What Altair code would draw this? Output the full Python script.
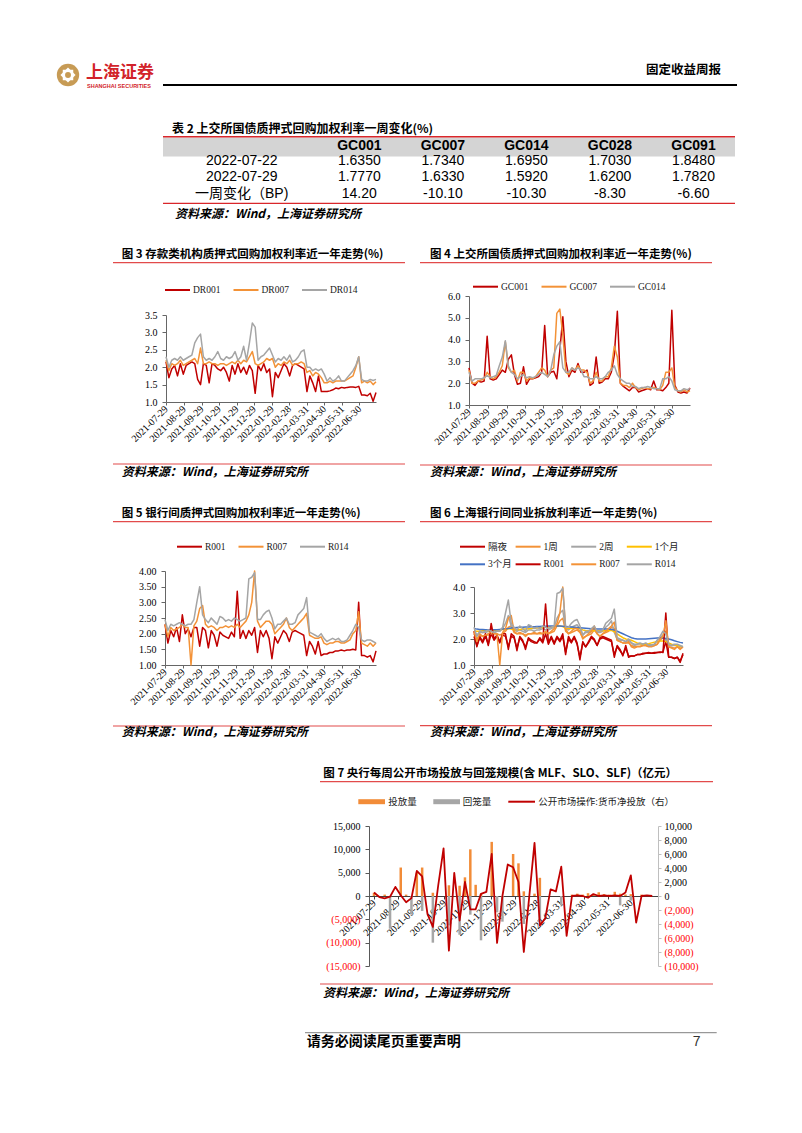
import altair as alt
import pandas as pd

# ===================== DATA =====================
table_cols = ["GC001", "GC007", "GC014", "GC028", "GC091"]
table_rows = ["2022-07-22", "2022-07-29", "一周变化（BP)"]
rate_0722 = [1.6350, 1.7340, 1.6950, 1.7030, 1.8480]
rate_0729 = [1.7770, 1.6330, 1.5920, 1.6200, 1.7820]
change_bp = [14.20, -10.10, -10.30, -8.30, -6.60]

month_ticks = ["2021-07-29", "2021-08-29", "2021-09-29", "2021-10-29", "2021-11-29",
               "2021-12-29", "2022-01-29", "2022-02-28", "2022-03-31", "2022-04-30",
               "2022-05-31", "2022-06-30"]

daily_dates = pd.date_range("2021-07-29", periods=74, freq="5D").strftime("%Y-%m-%dT00:00:00").tolist()
weekly_dates = pd.date_range("2021-07-29", periods=53, freq="7D").strftime("%Y-%m-%dT00:00:00").tolist()

# Fig 3: deposit-institution repo (DR)
dr_names = ["DR001", "DR007", "DR014"]
DR001 = [2.15, 1.7, 1.95, 2.05, 1.75, 2.1, 1.8, 2.05, 2.1, 2.15,
         2.1, 1.65, 1.5, 2.1, 2.05, 1.55, 2.1, 2.05, 1.95, 1.9,
         2.0, 1.85, 1.6, 2.05, 1.8, 2.1, 1.85, 2.0, 1.8, 2.05,
         1.9, 1.25, 2.05, 1.9, 2.1, 1.85, 1.95, 1.15, 1.85, 1.7,
         1.9, 2.1, 2.0, 1.75, 2.05, 2.1, 2.05, 2.0, 1.95, 1.3,
         1.75, 1.55, 1.3, 1.75, 1.3, 1.3, 1.3, 1.32, 1.35, 1.4,
         1.38, 1.42, 1.4, 1.42, 1.43, 1.43, 1.42, 1.45, 1.2, 1.2,
         1.18, 1.25, 1.02, 1.27]
DR007 = [2.2, 1.9, 2.1, 2.05, 2.1, 2.2, 2.05, 2.1, 2.15, 2.2,
         2.25, 2.1, 2.55, 2.1, 2.1, 2.15, 2.1, 2.1, 2.05, 2.1,
         2.1, 2.05, 2.1, 2.15, 2.1, 2.2, 2.1, 2.2, 2.15, 2.3,
         2.45, 2.1, 2.05, 2.1, 2.15, 2.25, 2.2, 2.25, 2.0, 2.1,
         2.05, 2.15, 2.1, 2.2, 2.05, 2.1, 2.1, 2.15, 2.1, 1.85,
         1.9, 1.75, 1.85, 1.8, 1.7, 1.55, 1.55, 1.6, 1.55, 1.6,
         1.6, 1.6, 1.6, 1.65, 1.7, 1.75, 2.0, 2.3, 1.55, 1.6,
         1.55, 1.6, 1.5, 1.58]
DR014 = [2.3, 2.0, 2.2, 2.25, 2.2, 2.3, 2.2, 2.25, 2.3, 2.35,
         2.7, 2.85, 2.95, 2.3, 2.2, 2.25, 2.2, 2.3, 2.45, 2.25,
         2.2, 2.3, 2.25, 2.3, 2.45, 2.2, 2.3, 2.6, 2.2, 2.7,
         3.27, 3.15, 2.2, 2.3, 2.35, 2.45, 2.55, 2.35, 2.15, 2.25,
         2.2, 2.3, 2.2, 2.35, 2.15, 2.2, 2.3, 2.45, 2.5, 2.0,
         2.0, 1.9, 1.95, 1.9, 1.95, 1.8, 1.6, 1.7, 1.6, 1.65,
         1.75, 1.6, 1.6, 1.7, 1.8, 1.9, 2.05, 2.3, 1.65, 1.6,
         1.6, 1.65, 1.62, 1.65]

# Fig 4: SSE GC repo
gc_names = ["GC001", "GC007", "GC014"]
GC001 = [2.7, 2.0, 1.9, 2.1, 2.05, 2.1, 4.15, 2.2, 2.15, 2.2,
         2.4, 2.6, 2.5, 3.1, 3.3, 2.4, 1.95, 2.0, 2.75, 1.95,
         2.2, 2.2, 2.25, 2.3, 2.5, 4.65, 2.3, 2.5, 2.55, 2.2,
         3.5, 5.05, 3.0, 2.3, 2.6, 2.5, 2.9, 2.5, 2.5, 2.6,
         1.9, 2.0, 3.2, 2.0, 2.05, 2.2, 2.2, 2.5, 3.3, 5.3,
         2.0, 1.85, 1.75, 1.65, 1.8, 1.8, 1.6, 1.65, 1.7, 1.75,
         1.7, 2.1, 1.7, 1.7, 1.65, 1.8, 2.0, 5.35, 1.9, 1.6,
         1.55, 1.6, 1.55, 1.78]
GC007 = [2.6, 2.0, 2.0, 2.1, 2.15, 2.2, 2.5, 2.3, 2.2, 2.3,
         2.5, 2.8, 3.9, 2.7, 2.5, 2.6, 2.1, 2.5, 2.5, 2.1,
         2.25, 2.2, 2.3, 2.5, 2.7, 2.6, 2.3, 2.6, 2.7, 5.2,
         5.4, 4.2, 2.5, 2.4, 2.7, 2.6, 2.8, 2.6, 2.6, 2.5,
         2.0, 2.1, 2.5, 2.1, 2.1, 2.3, 2.3, 2.7, 3.7, 3.2,
         2.0, 1.9, 1.9, 1.8, 2.0, 1.8, 1.7, 1.75, 1.8, 1.75,
         1.75, 1.8, 1.75, 1.7, 1.9, 2.5, 2.5, 2.7, 1.8, 1.65,
         1.6, 1.7, 1.6, 1.65]
GC014 = [2.5, 2.1, 2.2, 2.2, 2.2, 2.25, 2.35, 2.25, 2.3, 2.35,
         2.8, 3.2, 3.95, 2.8, 2.5, 2.4, 2.2, 2.3, 2.4, 2.25,
         2.3, 2.25, 2.3, 2.4, 2.5, 2.4, 2.3, 2.6, 3.3, 3.7,
         3.9, 2.7, 2.5, 2.5, 2.7, 2.6, 2.7, 2.6, 2.3, 2.3,
         2.2, 2.2, 2.3, 2.2, 2.2, 2.3, 2.5, 2.6, 2.8, 2.4,
         2.2, 2.1, 2.0, 2.0, 1.85, 1.85, 1.75, 1.8, 1.8, 1.85,
         1.8, 1.75, 1.75, 1.75, 2.2, 2.2, 2.3, 2.1, 1.7, 1.65,
         1.65, 1.75, 1.7, 1.75]

# Fig 5: interbank pledged repo (R)
r_names = ["R001", "R007", "R014"]
R001 = [2.3, 1.7, 2.1, 1.9, 2.2, 1.75, 2.6, 2.0, 2.15, 1.9,
        2.2, 2.2, 1.6, 2.2, 2.1, 1.55, 2.1, 1.95, 1.6, 2.05,
        1.95, 1.9, 1.85, 2.05, 1.9, 3.35, 1.85, 2.1, 1.85, 2.1,
        1.95, 2.2, 1.4, 2.1, 1.9, 2.1, 1.85, 1.2, 1.9, 1.7,
        1.9, 2.1, 2.0, 1.75, 2.05, 2.1, 2.05, 2.0, 1.95, 1.3,
        1.75, 1.6, 1.35, 1.75, 1.3, 1.35, 1.35, 1.4, 1.4, 1.45,
        1.45, 1.48, 1.45, 1.48, 1.48, 1.5, 1.48, 3.0, 1.3, 1.3,
        1.25, 1.3, 1.1, 1.45]
R007 = [2.3, 1.9, 2.2, 2.1, 2.15, 2.2, 2.3, 2.2, 2.2, 1.0,
        2.25, 2.4, 2.8, 2.9, 2.3, 2.2, 2.25, 2.2, 2.1, 2.2,
        2.2, 2.25, 2.2, 2.25, 2.2, 2.3, 2.2, 2.3, 2.4, 2.6,
        3.0, 4.0, 2.4, 2.2, 2.3, 2.4, 2.4, 2.3, 2.0, 2.1,
        2.2, 2.3, 2.5, 2.2, 2.1, 2.2, 2.3, 2.4, 2.5, 2.65,
        1.95, 1.9, 1.85, 1.85, 1.9, 1.7, 1.65, 1.7, 1.7, 1.75,
        1.75, 1.7, 1.7, 1.75, 1.8, 2.0, 2.1, 2.7, 1.7, 1.65,
        1.6, 1.7, 1.6, 1.7]
R014 = [2.45, 2.1, 2.3, 2.25, 2.3, 2.35, 2.3, 2.25, 2.3, 2.3,
        2.45, 3.0, 3.5, 2.6, 2.45, 2.35, 2.5, 2.4, 2.3, 2.55,
        2.5, 2.4, 2.45, 2.4, 2.5, 2.45, 2.4, 2.45, 2.5, 3.75,
        3.8, 3.95, 2.45, 2.45, 2.6, 2.7, 2.75, 2.5, 2.15, 2.3,
        2.3, 2.4, 2.5, 2.3, 2.3, 2.35, 2.6, 2.7, 2.8, 3.15,
        2.05, 2.0, 1.95, 1.9, 2.0, 1.85, 1.75, 1.8, 1.85, 1.8,
        1.85, 1.75, 1.75, 1.8, 1.95, 2.1, 2.3, 2.2, 1.8, 1.75,
        1.8, 1.8, 1.75, 1.7]

# Fig 6: Shibor
shibor_names = ["隔夜", "1周", "2周", "1个月", "3个月"]
SHIBOR_ON = [2.1, 1.75, 2.05, 1.85, 2.1, 1.8, 2.2, 1.95, 2.1, 1.85,
             2.15, 2.1, 1.7, 2.1, 2.05, 1.65, 2.05, 1.9, 1.7, 2.0,
             1.9, 1.85, 1.85, 2.0, 1.85, 2.2, 1.8, 2.05, 1.8, 2.05,
             1.9, 2.1, 1.5, 2.0, 1.85, 2.05, 1.8, 1.3, 1.85, 1.7,
             1.85, 2.05, 1.95, 1.75, 2.0, 2.05, 2.0, 1.95, 1.9, 1.4,
             1.7, 1.55, 1.4, 1.65, 1.35, 1.35, 1.35, 1.4, 1.4, 1.42,
             1.45, 1.45, 1.45, 1.45, 1.48, 1.48, 1.5, 1.9, 1.3, 1.3,
             1.25, 1.3, 1.15, 1.4]
SHIBOR_1W = [2.2, 2.0, 2.15, 2.1, 2.15, 2.15, 2.2, 2.2, 2.2, 2.15,
             2.2, 2.3, 2.45, 2.5, 2.25, 2.2, 2.2, 2.2, 2.15, 2.2,
             2.2, 2.2, 2.2, 2.2, 2.2, 2.25, 2.2, 2.25, 2.3, 2.5,
             2.7, 2.8, 2.3, 2.2, 2.25, 2.3, 2.35, 2.25, 2.05, 2.1,
             2.15, 2.2, 2.35, 2.2, 2.1, 2.2, 2.25, 2.3, 2.45, 2.4,
             1.95, 1.9, 1.85, 1.85, 1.85, 1.75, 1.7, 1.72, 1.72, 1.75,
             1.75, 1.72, 1.72, 1.75, 1.8, 1.95, 2.05, 2.3, 1.7, 1.68,
             1.65, 1.7, 1.65, 1.68]
SHIBOR_2W = [2.3, 2.15, 2.25, 2.25, 2.25, 2.3, 2.3, 2.25, 2.3, 2.3,
             2.4, 2.6, 2.9, 2.5, 2.35, 2.3, 2.35, 2.3, 2.25, 2.35,
             2.35, 2.3, 2.35, 2.35, 2.4, 2.35, 2.35, 2.4, 2.45, 2.8,
             3.0, 3.1, 2.4, 2.35, 2.45, 2.5, 2.55, 2.4, 2.15, 2.25,
             2.25, 2.3, 2.4, 2.25, 2.25, 2.3, 2.45, 2.55, 2.7, 2.25,
             2.0, 1.95, 1.95, 1.9, 1.95, 1.85, 1.8, 1.8, 1.82, 1.8,
             1.82, 1.78, 1.78, 1.8, 1.95, 2.05, 2.15, 1.95, 1.75, 1.75,
             1.75, 1.75, 1.72, 1.7]
SHIBOR_1M = [2.3, 2.3, 2.3, 2.32, 2.32, 2.33, 2.33, 2.34, 2.35, 2.36,
             2.37, 2.38, 2.4, 2.38, 2.36, 2.36, 2.37, 2.38, 2.38, 2.39,
             2.4, 2.41, 2.42, 2.43, 2.44, 2.45, 2.46, 2.47, 2.48, 2.5,
             2.5, 2.48, 2.42, 2.4, 2.4, 2.4, 2.42, 2.4, 2.35, 2.33,
             2.32, 2.32, 2.33, 2.32, 2.32, 2.32, 2.32, 2.33, 2.33, 2.28,
             2.2, 2.12, 2.05, 2.0, 1.98, 1.95, 1.9, 1.85, 1.82, 1.8,
             1.8, 1.82, 1.85, 1.88, 1.9, 1.92, 1.92, 1.9, 1.85, 1.8,
             1.78, 1.75, 1.72, 1.7]
SHIBOR_3M = [2.4, 2.38, 2.37, 2.37, 2.36, 2.36, 2.36, 2.36, 2.36, 2.37,
             2.38, 2.39, 2.4, 2.42, 2.43, 2.44, 2.45, 2.45, 2.46, 2.46,
             2.47, 2.47, 2.48, 2.48, 2.49, 2.49, 2.5, 2.5, 2.5, 2.5,
             2.5, 2.49, 2.48, 2.47, 2.46, 2.45, 2.44, 2.43, 2.42, 2.41,
             2.4, 2.39, 2.39, 2.38, 2.38, 2.38, 2.38, 2.38, 2.37, 2.35,
             2.3, 2.25, 2.2, 2.15, 2.1, 2.05, 2.02, 2.0, 2.0, 2.0,
             2.0, 2.01, 2.02, 2.03, 2.04, 2.05, 2.04, 2.02, 2.0, 1.97,
             1.93, 1.9, 1.87, 1.85]

# Fig 7: PBOC weekly open market operations (100m CNY)
omo_names = ["投放量", "回笼量", "公开市场操作:货币净投放（右）"]
omo_inject = [700, 0, 300, 0, 0, 6100, 300, 0, 5000, 6100,
              0, 700, 0, 0, 2300, 0, 2200, 4000, 10000, 2400,
              500, 0, 11600, 0, 0, 0, 9000, 7000, 1000, 0,
              500, 3900, 0, 0, 0, 0, 0, 300, 500, 300,
              600, 300, 800, 400, 300, 900, 500, 300, 400, 0,
              300, 0, 0]
omo_withdraw = [0, 0, 0, -7000, 0, 0, 0, -4000, 0, -3200,
                0, -10000, 0, 0, -6300, 0, -8300, 0, -4000, 0,
                -9500, 0, 0, -3500, -5500, 0, 0, 0, -6000, 0,
                0, -5000, 0, 0, 0, -2000, 0, 0, 0, 0,
                0, 0, 0, 0, 0, 0, -2000, 0, -1000, 0,
                0, 0, 0]
omo_net = [500, -150, -350, -100, 1300, 100, -900, -300, 3600, 2800,
           -2600, -4400, 1500, 6800, -7800, 3300, -3500, 2000, -1900, -1900,
           300, 600, 6000, -6700, 0, 4500, 4100, 2000, -8000, -200,
           7600, -4200, -3200, 950, 650, 4200, -5700, 0, 100, 0,
           -250, 280, 0, 100, 0, 100, 0, 500, 2950, -3800,
           0, 100, 0]

for s in [DR001, DR007, DR014, GC001, GC007, GC014, R001, R007, R014,
          SHIBOR_ON, SHIBOR_1W, SHIBOR_2W, SHIBOR_1M, SHIBOR_3M]:
    assert len(s) == 74, len(s)
for s in [omo_inject, omo_withdraw, omo_net]:
    assert len(s) == 53, len(s)

# ===================== STYLE =====================
CJK = "Noto Sans CJK SC"
SERIF = "Liberation Serif"
SANS = "Liberation Sans"
LEG_FONT = "'Liberation Serif', 'Noto Sans CJK SC'"
MIX_SANS = "'Liberation Sans', 'Noto Sans CJK SC'"
RED = "#C00000"
ORANGE = "#F39237"
GRAY = "#A5A5A5"
YELLOW = "#FFC000"
BLUE = "#4472C4"
RULE_RED = "#E24B4B"
AX = "#666666"
SOURCE = "资料来源：Wind，上海证券研究所"

one = pd.DataFrame({"k": [0]})

X_DOMAIN = [alt.DateTime(year=2021, month=7, date=29), alt.DateTime(year=2022, month=7, date=29)]
TICK_VALS = [alt.DateTime(year=int(d[:4]), month=int(d[5:7]), date=int(d[8:10])) for d in month_ticks]


def txt(s, x, y, size, font=CJK, weight="normal", style="normal", align="left", color="#000000"):
    return alt.Chart(one).mark_text(
        text=s, font=font, fontSize=size, fontWeight=weight, fontStyle=style,
        align=align, baseline="middle", color=color
    ).encode(x=alt.value(x), y=alt.value(y))


def hrule(x0, x1, y, color, w):
    return alt.Chart(one).mark_rule(color=color, strokeWidth=w).encode(
        x=alt.value(x0), x2=alt.value(x1), y=alt.value(y))


def box(x0, x1, y0, y1, color, opacity=1.0):
    return alt.Chart(one).mark_rect(color=color, opacity=opacity).encode(
        x=alt.value(x0), x2=alt.value(x1), y=alt.value(y0), y2=alt.value(y1))


def spacer(w, h):
    return alt.Chart(one).mark_point(opacity=0).properties(width=w, height=h)


def x_axis(offset=0, dom=AX):
    return alt.Axis(values=TICK_VALS, format="%Y-%m-%d", labelAngle=-45, labelAlign="right",
                    labelBaseline="middle", labelFont=SERIF, labelFontSize=10, labelColor="#000000",
                    labelPadding=2, labelOverlap=False, labelFlush=False, domainColor=dom,
                    tickColor=dom, tickSize=3, grid=False, title=None, offset=offset)


def y_axis(vals, fmt):
    return alt.Axis(values=vals, format=fmt, labelFont=SERIF, labelFontSize=10, labelColor="#000000",
                    labelPadding=5, domainColor=AX, tickColor=AX, tickSize=4, grid=False, title=None)


def line_legend(names, colors, x0, pitch, y):
    out = []
    for i, (n, c) in enumerate(zip(names, colors)):
        xs = x0 + pitch * i
        out.append(hrule(xs, xs + 25, y, c, 2))
        out.append(txt(n, xs + 28, y, 9.5, font=LEG_FONT, color="#1A1A1A"))
    return out


def line_figure(W, H, frame, title, title_xy, rule_x, title_rule_y, src_rule_y, src_xy,
                legend_layers, series, colors, ydom, yrange, yvals, yfmt):
    xs = alt.Scale(domain=X_DOMAIN)
    ys = alt.Scale(domain=ydom, range=yrange, nice=False, zero=False)
    xa = x_axis()
    ya = y_axis(yvals, yfmt)
    layers = [box(frame[0], frame[1], frame[2], frame[3], "white", 0.0)]
    layers.append(txt(title, title_xy[0], title_xy[1], 11.5, weight="bold"))
    layers.append(hrule(rule_x[0], rule_x[1], title_rule_y, RULE_RED, 1.2))
    layers += legend_layers
    for vals, c in zip(series, colors):
        df = pd.DataFrame({"date": daily_dates, "v": vals})
        layers.append(alt.Chart(df).mark_line(color=c, strokeWidth=1.5, strokeJoin="round").encode(
            x=alt.X("date:T", scale=xs, axis=xa),
            y=alt.Y("v:Q", scale=ys, axis=ya)))
    layers.append(hrule(rule_x[0], rule_x[1], src_rule_y, RULE_RED, 1.2))
    layers.append(txt(SOURCE, src_xy[0], src_xy[1], 12, weight="bold", style="italic"))
    return alt.layer(*layers).properties(width=W, height=H)


# ===================== TOP: header + table 2 =====================
GOLD = "#C79B55"
col_scale = alt.Scale(type="point", domain=table_cols, range=[351.3, 685.5], padding=0)
row_scale = alt.Scale(type="point", domain=table_rows, range=[152.5, 186], padding=0)
cells = []
for r, vals, fmt in zip(table_rows, [rate_0722, rate_0729, change_bp], ["{:.4f}", "{:.4f}", "{:.2f}"]):
    for c, v in zip(table_cols, vals):
        cells.append({"row": r, "col": c, "txt": fmt.format(v)})
cell_df = pd.DataFrame(cells)

top = alt.layer(
    box(0, 786, 0, 230, "white", 0.0),
    alt.Chart(one).mark_point(shape="circle", filled=True, size=500, color=GOLD, opacity=1).encode(
        x=alt.value(60), y=alt.value(67)),
    alt.Chart(one).mark_point(shape="diamond", filled=True, size=230, color="white", opacity=1).encode(
        x=alt.value(60), y=alt.value(67)),
    alt.Chart(one).mark_point(shape="square", filled=True, size=110, color="white", opacity=1).encode(
        x=alt.value(60), y=alt.value(67)),
    alt.Chart(one).mark_point(shape="circle", filled=True, size=35, color=GOLD, opacity=1).encode(
        x=alt.value(60), y=alt.value(67)),
    txt("上海证券", 78, 65, 17, weight="bold", color="#D2232A"),
    txt("SHANGHAI SECURITIES", 79, 78, 5.5, font=SANS, weight="bold", color="#D2232A"),
    txt("固定收益周报", 713, 62, 12.5, weight="bold", align="right"),
    hrule(155, 729, 77, "#000000", 2),
    txt("表 2 上交所国债质押式回购加权利率一周变化(%)", 164, 121, 12, weight="bold"),
    box(155, 727, 129.5, 148.5, "#D4D4D4"),
    hrule(155, 727, 128.7, "#D9262A", 1.5),
    alt.Chart(pd.DataFrame({"col": table_cols})).mark_text(
        font=SANS, fontSize=14, fontWeight="bold", baseline="middle").encode(
        x=alt.X("col:N", scale=col_scale, axis=None), y=alt.value(137.5), text="col:N"),
    alt.Chart(pd.DataFrame({"row": table_rows})).mark_text(
        font=MIX_SANS, fontSize=14, baseline="middle").encode(
        x=alt.value(233.7), y=alt.Y("row:N", scale=row_scale, axis=None), text="row:N"),
    alt.Chart(cell_df).mark_text(font=SANS, fontSize=14, baseline="middle").encode(
        x=alt.X("col:N", scale=col_scale, axis=None),
        y=alt.Y("row:N", scale=row_scale, axis=None), text="txt:N"),
    hrule(155, 727, 195.3, "#D9262A", 1.2),
    txt(SOURCE, 167, 205.7, 12, weight="bold", style="italic"),
).properties(width=786, height=230)

# ===================== FIG 3 (origin page 166,296) =====================
fig3 = line_figure(
    210, 106, (-148, 249, -58, 199),
    "图 3 存款类机构质押式回购加权利率近一年走势(%)", (-44.3, -41), (-53, 239), -33.3, 168, (-44.3, 176.3),
    line_legend(dr_names, [RED, ORANGE, GRAY], -1, 68.5, -6),
    [DR001, DR007, DR014], [RED, ORANGE, GRAY],
    [1.0, 3.5], [106, 19], [1.0, 1.5, 2.0, 2.5, 3.0, 3.5], ".1f")

# ===================== FIG 4 (origin page 469,296) =====================
fig4 = line_figure(
    221, 109, (-54, 325, -58, 199),
    "图 4 上交所国债质押式回购加权利率近一年走势(%)", (-39, -41), (-49, 243), -33.3, 169, (-39, 176),
    line_legend(gc_names, [RED, ORANGE, GRAY], 4, 68.5, -9.3),
    [GC001, GC007, GC014], [RED, ORANGE, GRAY],
    [1.0, 6.0], [109, 0], [1.0, 2.0, 3.0, 4.0, 5.0, 6.0], ".1f")

# ===================== FIG 5 (origin page 165,571) =====================
fig5 = line_figure(
    211, 94, (-147, 250, -76, 184),
    "图 5 银行间质押式回购加权利率近一年走势(%)", (-43.3, -57), (-52, 240), -49.3, 155, (-43.3, 161.3),
    line_legend(r_names, [RED, ORANGE, GRAY], 12, 61.5, -24.3),
    [R001, R007, R014], [RED, ORANGE, GRAY],
    [1.0, 4.0], [94, 0], [1.0, 1.5, 2.0, 2.5, 3.0, 3.5, 4.0], ".2f")

# ===================== FIG 6 (origin page 474,571) =====================
f6_names = shibor_names + r_names
f6_colors = [RED, ORANGE, GRAY, YELLOW, BLUE, RED, ORANGE, GRAY]
fig6 = line_figure(
    209, 94, (-59, 320, -76, 184),
    "图 6 上海银行间同业拆放利率近一年走势(%)", (-44, -57), (-54, 238), -49.3, 154.7, (-44, 161),
    line_legend(f6_names[:4], f6_colors[:4], -14, 55.6, -24.3)
    + line_legend(f6_names[4:], f6_colors[4:], -14, 55.6, -6.7),
    [SHIBOR_ON, SHIBOR_1W, SHIBOR_2W, SHIBOR_1M, SHIBOR_3M, R001, R007, R014], f6_colors,
    [1.0, 4.0], [94, 16], [1.0, 2.0, 3.0, 4.0], ".1f")

# ===================== FIG 7 (origin page 369,826) =====================
ORANGE7 = "#F28C38"
GRAY7 = "#A6A6A6"
neg_expr = "datum.value < 0 ? '(' + format(-datum.value, ',') + ')' : format(datum.value, ',')"
neg_color = {"condition": {"test": "datum.value < 0", "value": "#FF0000"}, "value": "#000000"}

bar_df = pd.DataFrame({
    "date": weekly_dates + weekly_dates,
    "v": omo_inject + omo_withdraw,
    "kind": [omo_names[0]] * 53 + [omo_names[1]] * 53,
})
bar_df = bar_df[bar_df["v"] != 0]
net_df = pd.DataFrame({"date": weekly_dates, "v": omo_net})

xs7 = alt.Scale(domain=X_DOMAIN)
xa7 = x_axis(offset=-70, dom="#404040")
bars = alt.Chart(bar_df).mark_bar(size=2.5).encode(
    x=alt.X("date:T", scale=xs7, axis=xa7),
    y=alt.Y("v:Q", stack=None, scale=alt.Scale(domain=[-15000, 15000], nice=False),
            axis=alt.Axis(orient="left", values=list(range(-15000, 15001, 5000)), labelExpr=neg_expr,
                          labelColor=neg_color, labelFont=SERIF, labelFontSize=10, labelPadding=5,
                          domainColor="#595959", tickColor="#595959", tickSize=4, grid=False, title=None)),
    color=alt.Color("kind:N", scale=alt.Scale(domain=omo_names[:2], range=[ORANGE7, GRAY7]), legend=None),
)
net = alt.Chart(net_df).mark_line(color=RED, strokeWidth=1.8, strokeJoin="round").encode(
    x=alt.X("date:T", scale=xs7, axis=xa7),
    y=alt.Y("v:Q", scale=alt.Scale(domain=[-10000, 10000], nice=False),
            axis=alt.Axis(orient="right", values=list(range(-10000, 10001, 2000)), labelExpr=neg_expr,
                          labelColor=neg_color, labelFont=SERIF, labelFontSize=10, labelPadding=3,
                          domainColor="#BFBFBF", tickColor="#BFBFBF", tickSize=3, grid=False, title=None)),
)

fig7 = alt.layer(
    box(-351, 425, -71, 299, "white", 0.0),
    txt("图 7 央行每周公开市场投放与回笼规模(含 MLF、SLO、SLF)（亿元）", -45.7, -52, 11.5, weight="bold"),
    hrule(-49, 344, -44.3, RULE_RED, 1.2),
    box(-10.7, 16, -26.8, -21.8, ORANGE7),
    txt(omo_names[0], 19.3, -24.3, 9.5, font=LEG_FONT, color="#1A1A1A"),
    box(64.3, 91, -26.8, -21.8, GRAY7),
    txt(omo_names[1], 93.7, -24.3, 9.5, font=LEG_FONT, color="#1A1A1A"),
    hrule(139.3, 166, -24.3, RED, 2),
    txt(omo_names[2], 169.3, -24.3, 9.5, font=LEG_FONT, color="#1A1A1A"),
    bars,
    net,
    hrule(-49, 344, 158, RULE_RED, 1.2),
    txt(SOURCE, -46, 167.3, 12, weight="bold", style="italic"),
    hrule(-64, 347.7, 206.7, "#808080", 1),
    txt("请务必阅读尾页重要声明", -62.3, 215.7, 14, weight="bold"),
    txt("7", 327.7, 215.7, 14, font=SANS, align="center", color="#333333"),
).resolve_scale(y="independent").properties(width=289, height=140)

# ===================== PAGE =====================
rowB = alt.hconcat(spacer(10, 10), fig3, fig4, spacing=0)
rowC = alt.hconcat(spacer(10, 10), fig5, fig6, spacing=0)
rowD = alt.hconcat(spacer(10, 10), fig7, spacing=0)
chart = alt.vconcat(top, rowB, rowC, rowD, spacing=0).properties(padding=0).configure_view(stroke=None)

chart.save("out.html", embed_options={"renderer": "svg", "actions": False})
